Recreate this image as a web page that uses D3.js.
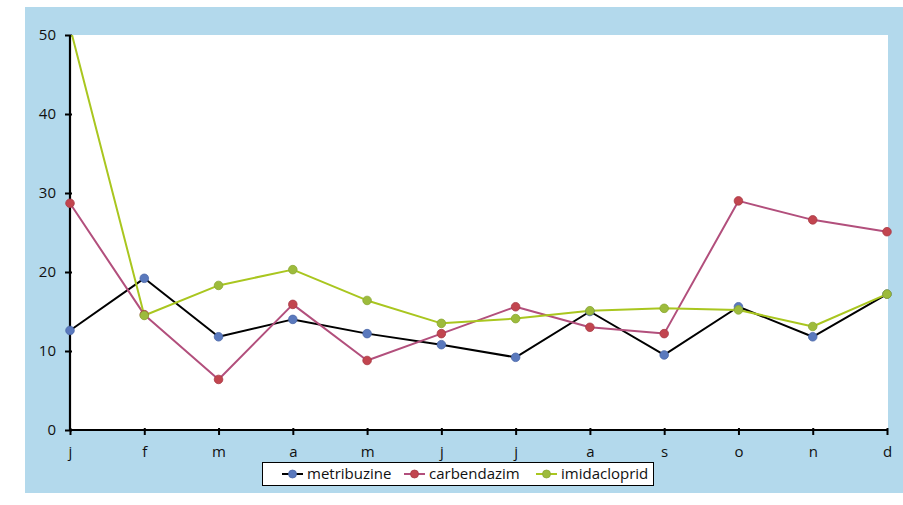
<!DOCTYPE html>
<html>
<head>
<meta charset="utf-8">
<script src="https://cdn.jsdelivr.net/npm/d3@7"></script>
<style>
  html, body { margin: 0; padding: 0; background: #fff; }
  svg { display: block; }
  text { font-family: "Open Sans", "DejaVu Sans", sans-serif; fill: #111; }
</style>
</head>
<body>
<svg id="chart" width="903" height="505"></svg>
<script>
// Monthly values per compound
const months = ["j", "f", "m", "a", "m", "j", "j", "a", "s", "o", "n", "d"];
const metribuzine  = [12.6, 19.2, 11.8, 14.0, 12.2, 10.8, 9.2, 15.0, 9.5, 15.6, 11.8, 17.2];
const carbendazim  = [28.7, 14.6, 6.4, 15.9, 8.8, 12.2, 15.6, 13.0, 12.2, 29.0, 26.6, 25.1];
const imidacloprid = [51.0, 14.5, 18.3, 20.3, 16.4, 13.5, 14.1, 15.1, 15.4, 15.2, 13.1, 17.2];
const yTicks = [0, 10, 20, 30, 40, 50];

const series = [
  { name: "metribuzine",  values: metribuzine,  line: "#000000", marker: "#5a79bd", markerEdge: "#4a67a8" },
  { name: "carbendazim",  values: carbendazim,  line: "#b24f7c", marker: "#c2454f", markerEdge: "#a83a45" },
  { name: "imidacloprid", values: imidacloprid, line: "#a9c61f", marker: "#9dbb3c", markerEdge: "#8aa832" }
];

const svg = d3.select("#chart");
const frame = { x: 25, y: 7, w: 878, h: 486 };
const plot = { left: 70, right: 888, top: 35, bottom: 430 };

// outer coloured frame and white plotting area
svg.append("rect").attr("x", frame.x).attr("y", frame.y)
  .attr("width", frame.w).attr("height", frame.h).attr("fill", "#b3d9ec");
svg.append("rect").attr("x", plot.left).attr("y", plot.top)
  .attr("width", plot.right - plot.left).attr("height", plot.bottom - plot.top).attr("fill", "#ffffff");

const x = d3.scalePoint().domain(d3.range(months.length)).range([plot.left, plot.right - 1]);
const y = d3.scaleLinear().domain([0, 50]).range([plot.bottom, plot.top]);

svg.append("defs").append("clipPath").attr("id", "plotclip")
  .append("rect").attr("x", plot.left - 6).attr("y", plot.top)
  .attr("width", plot.right - plot.left + 12).attr("height", plot.bottom - plot.top + 6);

// axes
const yAxis = svg.append("g").attr("transform", `translate(${plot.left},0)`)
  .call(d3.axisLeft(y).tickValues(yTicks).tickSize(5).tickPadding(9));
const xAxis = svg.append("g").attr("transform", `translate(0,${plot.bottom})`)
  .call(d3.axisBottom(x).tickFormat(i => months[i]).tickSize(5).tickPadding(11));

[yAxis, xAxis].forEach(g => {
  g.select(".domain").attr("stroke", "#000").attr("stroke-width", 2.2);
  g.selectAll(".tick line").attr("stroke", "#000").attr("stroke-width", 2);
  g.selectAll(".tick text").style("font-size", "15px")
    .style("font-family", "'Open Sans', 'DejaVu Sans', sans-serif").attr("fill", "#111");
});
yAxis.select(".domain").attr("d", `M0,${plot.bottom}V${plot.top}`);
xAxis.select(".domain").attr("d", `M${plot.left},0H${plot.right - 1}`);
yAxis.selectAll(".tick line").attr("x1", 2);
xAxis.selectAll(".tick line").attr("y1", -2);

// series lines and markers
const line = d3.line().x((d, i) => x(i)).y(d => y(d));
const layer = svg.append("g").attr("clip-path", "url(#plotclip)");

series.forEach(s => {
  layer.append("path").datum(s.values)
    .attr("fill", "none").attr("stroke", s.line).attr("stroke-width", 2)
    .attr("stroke-linejoin", "round").attr("d", line);
});
series.forEach(s => {
  layer.selectAll(null).data(s.values).enter().append("circle")
    .attr("cx", (d, i) => x(i)).attr("cy", d => y(d)).attr("r", 4.3)
    .attr("fill", s.marker).attr("stroke", s.markerEdge).attr("stroke-width", 0.8);
});

// legend
const legend = svg.append("g");
legend.append("rect").attr("x", 262.5).attr("y", 462.5).attr("width", 391).attr("height", 23)
  .attr("fill", "#fff").attr("stroke", "#000").attr("stroke-width", 1);
const legendX = [282, 404, 536];
series.forEach((s, i) => {
  const g = legend.append("g").attr("transform", `translate(${legendX[i]},474)`);
  g.append("line").attr("x1", 0).attr("x2", 21).attr("y1", 0).attr("y2", 0)
    .attr("stroke", s.line).attr("stroke-width", 2);
  g.append("circle").attr("cx", 10.5).attr("cy", 0).attr("r", 4)
    .attr("fill", s.marker).attr("stroke", s.markerEdge).attr("stroke-width", 0.8);
  g.append("text").attr("x", 25).attr("y", 5).style("font-size", "15px").text(s.name);
});
</script>
</body>
</html>
